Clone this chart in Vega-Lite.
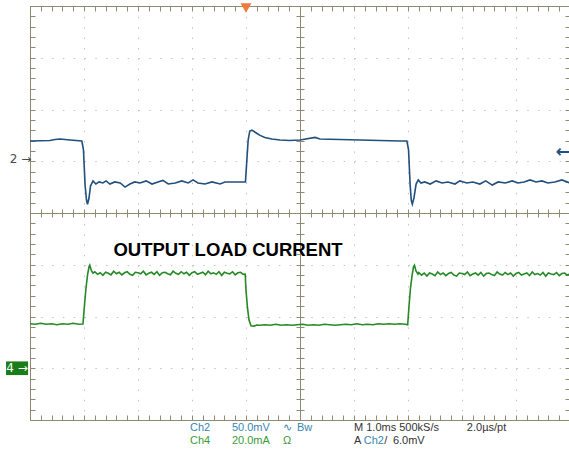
{
 "$schema": "https://vega.github.io/schema/vega-lite/v6.json",
 "width": 540, "height": 414,
 "autosize": "none",
 "padding": {"left": 30, "top": 6, "right": 0, "bottom": 32},
 "background": "white",
 "config": {
  "view": {"stroke": "#8f8a72", "strokeWidth": 1},
  "axis": {"labels": false, "title": null, "grid": false, "domainColor": "#8f8a72", "tickColor": "#8f8a72", "domainWidth": 1, "tickWidth": 1}
 },
 "resolve": {"axis": {"x": "independent", "y": "independent"}},
 "datasets": {
  "title": [{"t": 3.667, "v": -0.715, "label": "OUTPUT LOAD CURRENT"}],
  "ch2": [
   {"t":0,"v":1.39},{"t":0.37,"v":1.40},{"t":0.46,"v":1.42},{"t":0.56,"v":1.43},{"t":0.74,"v":1.41},{"t":0.96,"v":1.39},{"t":0.99,"v":1.22},{"t":1.02,"v":0.54},{"t":1.046,"v":0.25},{"t":1.065,"v":0.17},{"t":1.093,"v":0.29},{"t":1.12,"v":0.52},{"t":1.167,"v":0.62},{"t":1.22,"v":0.56},{"t":1.28,"v":0.60},{"t":1.35,"v":0.58},{"t":1.41,"v":0.62},{"t":1.48,"v":0.56},{"t":1.57,"v":0.60},{"t":1.67,"v":0.58},{"t":1.76,"v":0.50},{"t":1.85,"v":0.56},{"t":1.94,"v":0.60},{"t":2.04,"v":0.58},{"t":2.15,"v":0.62},{"t":2.26,"v":0.56},{"t":2.37,"v":0.60},{"t":2.46,"v":0.63},{"t":2.56,"v":0.56},{"t":2.69,"v":0.58},{"t":2.81,"v":0.62},{"t":2.93,"v":0.58},{"t":3.02,"v":0.64},{"t":3.11,"v":0.58},{"t":3.24,"v":0.56},{"t":3.37,"v":0.60},{"t":3.52,"v":0.56},{"t":3.61,"v":0.60},{"t":3.74,"v":0.60},{"t":3.89,"v":0.60},{"t":3.99,"v":0.60},{"t":4.01,"v":0.93},{"t":4.04,"v":1.41},{"t":4.07,"v":1.585},{"t":4.11,"v":1.60},{"t":4.19,"v":1.546},{"t":4.26,"v":1.50},{"t":4.35,"v":1.46},{"t":4.48,"v":1.43},{"t":4.63,"v":1.41},{"t":4.81,"v":1.40},{"t":5.0,"v":1.41},{"t":5.28,"v":1.46},{"t":5.37,"v":1.43},{"t":5.74,"v":1.42},{"t":6.11,"v":1.41},{"t":6.48,"v":1.40},{"t":6.85,"v":1.39},{"t":6.98,"v":1.39},{"t":7.01,"v":1.22},{"t":7.04,"v":0.54},{"t":7.06,"v":0.25},{"t":7.08,"v":0.17},{"t":7.11,"v":0.29},{"t":7.15,"v":0.56},{"t":7.19,"v":0.64},{"t":7.24,"v":0.58},{"t":7.31,"v":0.60},{"t":7.41,"v":0.56},{"t":7.52,"v":0.62},{"t":7.63,"v":0.58},{"t":7.74,"v":0.60},{"t":7.87,"v":0.56},{"t":7.96,"v":0.62},{"t":8.09,"v":0.58},{"t":8.2,"v":0.60},{"t":8.33,"v":0.56},{"t":8.44,"v":0.62},{"t":8.56,"v":0.54},{"t":8.67,"v":0.60},{"t":8.8,"v":0.58},{"t":8.93,"v":0.62},{"t":9.04,"v":0.58},{"t":9.15,"v":0.60},{"t":9.26,"v":0.64},{"t":9.37,"v":0.60},{"t":9.48,"v":0.62},{"t":9.59,"v":0.58},{"t":9.72,"v":0.60},{"t":9.85,"v":0.64},{"t":10,"v":0.58}
  ],
  "ch4": [
   {"t":0,"v":-2.14},{"t":0.1,"v":-2.15},{"t":0.2,"v":-2.13},{"t":0.3,"v":-2.15},{"t":0.4,"v":-2.14},{"t":0.5,"v":-2.16},{"t":0.6,"v":-2.14},{"t":0.7,"v":-2.15},{"t":0.8,"v":-2.13},{"t":0.9,"v":-2.15},{"t":0.981,"v":-2.145},
   {"t":1.009,"v":-1.78},{"t":1.037,"v":-1.45},{"t":1.065,"v":-1.20},{"t":1.093,"v":-1.04},{"t":1.107,"v":-1.01},{"t":1.139,"v":-1.12},{"t":1.167,"v":-1.16},
   {"t":1.20,"v":-1.135},{"t":1.25,"v":-1.185},{"t":1.30,"v":-1.155},{"t":1.35,"v":-1.205},{"t":1.40,"v":-1.145},{"t":1.45,"v":-1.165},{"t":1.50,"v":-1.195},{"t":1.55,"v":-1.125},{"t":1.60,"v":-1.175},{"t":1.65,"v":-1.145},{"t":1.70,"v":-1.195},{"t":1.75,"v":-1.155},{"t":1.80,"v":-1.135},{"t":1.85,"v":-1.185},{"t":1.90,"v":-1.205},{"t":1.95,"v":-1.145},{"t":2.00,"v":-1.155},{"t":2.05,"v":-1.175},{"t":2.10,"v":-1.125},{"t":2.15,"v":-1.195},{"t":2.20,"v":-1.165},{"t":2.25,"v":-1.145},{"t":2.30,"v":-1.185},{"t":2.35,"v":-1.135},{"t":2.40,"v":-1.205},{"t":2.45,"v":-1.155},{"t":2.50,"v":-1.145},{"t":2.55,"v":-1.175},{"t":2.60,"v":-1.195},{"t":2.65,"v":-1.125},{"t":2.70,"v":-1.165},{"t":2.75,"v":-1.185},{"t":2.80,"v":-1.135},{"t":2.85,"v":-1.175},{"t":2.90,"v":-1.145},{"t":2.95,"v":-1.205},{"t":3.00,"v":-1.155},{"t":3.05,"v":-1.135},{"t":3.10,"v":-1.185},{"t":3.15,"v":-1.165},{"t":3.20,"v":-1.145},{"t":3.25,"v":-1.195},{"t":3.30,"v":-1.125},{"t":3.35,"v":-1.175},{"t":3.40,"v":-1.155},{"t":3.45,"v":-1.185},{"t":3.50,"v":-1.135},{"t":3.55,"v":-1.205},{"t":3.60,"v":-1.145},{"t":3.65,"v":-1.165},{"t":3.70,"v":-1.175},{"t":3.75,"v":-1.135},{"t":3.80,"v":-1.195},{"t":3.85,"v":-1.155},{"t":3.90,"v":-1.145},{"t":3.95,"v":-1.185},
   {"t":3.985,"v":-1.18},{"t":4.0,"v":-1.49},{"t":4.028,"v":-1.84},{"t":4.056,"v":-2.07},{"t":4.093,"v":-2.18},{"t":4.148,"v":-2.185},{"t":4.2,"v":-2.165},
   {"t":4.25,"v":-2.17},{"t":4.35,"v":-2.16},{"t":4.45,"v":-2.17},{"t":4.55,"v":-2.15},{"t":4.65,"v":-2.17},{"t":4.75,"v":-2.16},{"t":4.85,"v":-2.17},{"t":4.95,"v":-2.16},{"t":5.05,"v":-2.15},{"t":5.15,"v":-2.17},{"t":5.25,"v":-2.16},{"t":5.35,"v":-2.17},{"t":5.45,"v":-2.15},{"t":5.55,"v":-2.16},{"t":5.65,"v":-2.17},{"t":5.75,"v":-2.16},{"t":5.85,"v":-2.15},{"t":5.95,"v":-2.16},{"t":6.05,"v":-2.14},{"t":6.15,"v":-2.16},{"t":6.25,"v":-2.15},{"t":6.35,"v":-2.16},{"t":6.45,"v":-2.14},{"t":6.55,"v":-2.15},{"t":6.65,"v":-2.14},{"t":6.75,"v":-2.15},{"t":6.85,"v":-2.14},{"t":6.95,"v":-2.15},{"t":6.994,"v":-2.16},
   {"t":7.02,"v":-1.78},{"t":7.046,"v":-1.45},{"t":7.074,"v":-1.22},{"t":7.102,"v":-1.04},{"t":7.12,"v":-1.01},{"t":7.148,"v":-1.12},{"t":7.185,"v":-1.18},
   {"t":7.20,"v":-1.15},{"t":7.25,"v":-1.20},{"t":7.30,"v":-1.16},{"t":7.35,"v":-1.22},{"t":7.40,"v":-1.16},{"t":7.45,"v":-1.18},{"t":7.50,"v":-1.21},{"t":7.55,"v":-1.14},{"t":7.60,"v":-1.19},{"t":7.65,"v":-1.16},{"t":7.70,"v":-1.21},{"t":7.75,"v":-1.17},{"t":7.80,"v":-1.15},{"t":7.85,"v":-1.20},{"t":7.90,"v":-1.22},{"t":7.95,"v":-1.16},{"t":8.00,"v":-1.17},{"t":8.05,"v":-1.19},{"t":8.10,"v":-1.14},{"t":8.15,"v":-1.21},{"t":8.20,"v":-1.18},{"t":8.25,"v":-1.16},{"t":8.30,"v":-1.20},{"t":8.35,"v":-1.15},{"t":8.40,"v":-1.22},{"t":8.45,"v":-1.17},{"t":8.50,"v":-1.16},{"t":8.55,"v":-1.19},{"t":8.60,"v":-1.21},{"t":8.65,"v":-1.14},{"t":8.70,"v":-1.18},{"t":8.75,"v":-1.20},{"t":8.80,"v":-1.15},{"t":8.85,"v":-1.19},{"t":8.90,"v":-1.16},{"t":8.95,"v":-1.22},{"t":9.00,"v":-1.17},{"t":9.05,"v":-1.15},{"t":9.10,"v":-1.20},{"t":9.15,"v":-1.18},{"t":9.20,"v":-1.16},{"t":9.25,"v":-1.21},{"t":9.30,"v":-1.14},{"t":9.35,"v":-1.19},{"t":9.40,"v":-1.17},{"t":9.45,"v":-1.20},{"t":9.50,"v":-1.15},{"t":9.55,"v":-1.22},{"t":9.60,"v":-1.16},{"t":9.65,"v":-1.18},{"t":9.70,"v":-1.19},{"t":9.75,"v":-1.15},{"t":9.80,"v":-1.21},{"t":9.85,"v":-1.17},{"t":9.90,"v":-1.16},{"t":9.95,"v":-1.20},{"t":10.00,"v":-1.18}
  ],
  "info": [
   {"t":2.963,"v":-4.155,"label":"Ch2","series":"Ch2"},
   {"t":3.74,"v":-4.155,"label":"50.0mV","series":"Ch2"},
   {"t":4.685,"v":-4.155,"label":"∿","series":"Ch2"},
   {"t":4.944,"v":-4.155,"label":"Bw","series":"Ch2"},
   {"t":6.0,"v":-4.155,"label":"M 1.0ms 500kS/s","series":"Info"},
   {"t":8.09,"v":-4.155,"label":"2.0µs/pt","series":"Info"},
   {"t":2.963,"v":-4.406,"label":"Ch4","series":"Ch4"},
   {"t":3.74,"v":-4.406,"label":"20.0mA","series":"Ch4"},
   {"t":4.685,"v":-4.406,"label":"Ω","series":"Ch4"},
   {"t":6.0,"v":-4.406,"label":"A","series":"Info"},
   {"t":6.18,"v":-4.406,"label":"Ch2","series":"Ch2"},
   {"t":6.56,"v":-4.406,"label":"/","series":"Info"},
   {"t":6.72,"v":-4.406,"label":"6.0mV","series":"Info"}
  ],
  "refbox": [{"item":"Ch4 reference","t":-0.24,"v":-3.0}],
  "trigpos": [{"item":"Trigger position","t":4.0,"v":3.96}],
  "triglevel": [{"item":"Trigger level","t":9.87,"v":1.18,"label":"←"}],
  "markers": [
   {"t":-0.176,"v":1.043,"label":"2 →","series":"Ch2 marker"},
   {"t":-0.24,"v":-3.0,"label":"4 →","series":"Ch4 marker"}
  ]
 },
 "layer": [
  {
   "data": {"name": "title"},
   "mark": {"type": "text", "font": "Liberation Sans", "fontSize": 18.5, "fontWeight": "bold", "align": "center", "baseline": "middle", "color": "#000000"},
   "encoding": {
    "x": {"field": "t", "type": "quantitative", "scale": {"domain": [0, 10], "nice": false, "zero": false},
          "axis": {"orient": "bottom", "grid": true, "gridDash": [1.5, 8.85], "gridColor": "#c4c4c4", "values": [1, 2, 3, 4, 6, 7, 8, 9], "ticks": false, "domain": false, "labels": false, "title": null}},
    "y": {"field": "v", "type": "quantitative", "scale": {"domain": [-4, 4], "nice": false, "zero": false},
          "axis": {"orient": "left", "grid": true, "gridDash": [1.5, 9.3], "gridColor": "#c4c4c4", "values": [-3, -2, -1, 1, 2, 3], "ticks": false, "domain": false, "labels": false, "title": null}},
    "text": {"field": "label"}
   }
  },
  {
   "data": {"name": "ch2"},
   "mark": {"type": "line", "color": "#214f7e", "strokeWidth": 1.6},
   "encoding": {
    "x": {"field": "t", "type": "quantitative", "scale": {"domain": [0, 10], "nice": false, "zero": false},
          "axis": {"orient": "bottom", "tickCount": 50, "tickSize": -5, "domain": true, "labels": false, "title": null}},
    "y": {"field": "v", "type": "quantitative", "scale": {"domain": [-4, 4], "nice": false, "zero": false},
          "axis": {"orient": "left", "tickCount": 40, "tickSize": -5, "domain": true, "labels": false, "title": null}}
   }
  },
  {
   "data": {"name": "ch4"},
   "mark": {"type": "line", "color": "#258a25", "strokeWidth": 1.6},
   "encoding": {
    "x": {"field": "t", "type": "quantitative", "scale": {"domain": [0, 10], "nice": false, "zero": false},
          "axis": {"orient": "top", "tickCount": 50, "tickSize": -5, "domain": true, "labels": false, "title": null}},
    "y": {"field": "v", "type": "quantitative", "scale": {"domain": [-4, 4], "nice": false, "zero": false},
          "axis": {"orient": "right", "tickCount": 40, "tickSize": -5, "domain": true, "labels": false, "title": null}}
   }
  },
  {
   "data": {"name": "info"},
   "mark": {"type": "text", "font": "Liberation Sans", "fontSize": 11, "align": "left", "baseline": "middle"},
   "encoding": {
    "x": {"field": "t", "type": "quantitative", "scale": {"domain": [0, 10], "nice": false, "zero": false},
          "axis": {"orient": "bottom", "offset": -207, "tickCount": 50, "tickSize": 4, "domain": true, "labels": false, "title": null}},
    "y": {"field": "v", "type": "quantitative", "scale": {"domain": [-4, 4], "nice": false, "zero": false},
          "axis": {"orient": "left", "offset": -270, "tickCount": 40, "tickSize": 4, "domain": true, "labels": false, "title": null}},
    "text": {"field": "label"},
    "color": {"field": "series", "type": "nominal", "legend": null,
              "scale": {"domain": ["Ch2", "Ch4", "Info", "Ch2 marker", "Ch4 marker"], "range": ["#3a86b0", "#3a9a3a", "#333333", "#4a4a4a", "#ffffff"]}}
   }
  },
  {
   "data": {"name": "refbox"},
   "mark": {"type": "point", "shape": "M-1,-0.62H1V0.62H-1Z", "size": 484, "filled": true, "opacity": 1, "color": "#1a7d1a"},
   "encoding": {
    "x": {"field": "t", "type": "quantitative", "scale": {"domain": [0, 10], "nice": false, "zero": false}, "axis": null},
    "y": {"field": "v", "type": "quantitative", "scale": {"domain": [-4, 4], "nice": false, "zero": false}, "axis": null}
   }
  },
  {
   "data": {"name": "trigpos"},
   "mark": {"type": "point", "shape": "triangle-down", "size": 120, "filled": true, "opacity": 1, "color": "#f07b3c"},
   "encoding": {
    "x": {"field": "t", "type": "quantitative", "scale": {"domain": [0, 10], "nice": false, "zero": false}, "axis": null},
    "y": {"field": "v", "type": "quantitative", "scale": {"domain": [-4, 4], "nice": false, "zero": false}, "axis": null}
   }
  },
  {
   "data": {"name": "triglevel"},
   "mark": {"type": "text", "font": "DejaVu Sans", "fontSize": 17, "fontWeight": "bold", "align": "center", "baseline": "middle", "color": "#214f7e"},
   "encoding": {
    "x": {"field": "t", "type": "quantitative", "scale": {"domain": [0, 10], "nice": false, "zero": false}, "axis": null},
    "y": {"field": "v", "type": "quantitative", "scale": {"domain": [-4, 4], "nice": false, "zero": false}, "axis": null},
    "text": {"field": "label"}
   }
  },
  {
   "data": {"name": "markers"},
   "mark": {"type": "text", "font": "DejaVu Sans", "fontSize": 12, "align": "center", "baseline": "middle"},
   "encoding": {
    "x": {"field": "t", "type": "quantitative", "scale": {"domain": [0, 10], "nice": false, "zero": false},
          "axis": {"orient": "top", "offset": -207, "tickCount": 50, "tickSize": 4, "domain": false, "labels": false, "title": null}},
    "y": {"field": "v", "type": "quantitative", "scale": {"domain": [-4, 4], "nice": false, "zero": false},
          "axis": {"orient": "right", "offset": -270, "tickCount": 40, "tickSize": 4, "domain": false, "labels": false, "title": null}},
    "text": {"field": "label"},
    "color": {"field": "series", "type": "nominal", "legend": null,
              "scale": {"domain": ["Ch2", "Ch4", "Info", "Ch2 marker", "Ch4 marker"], "range": ["#3a86b0", "#3a9a3a", "#333333", "#4a4a4a", "#ffffff"]}}
   }
  }
 ]
}
